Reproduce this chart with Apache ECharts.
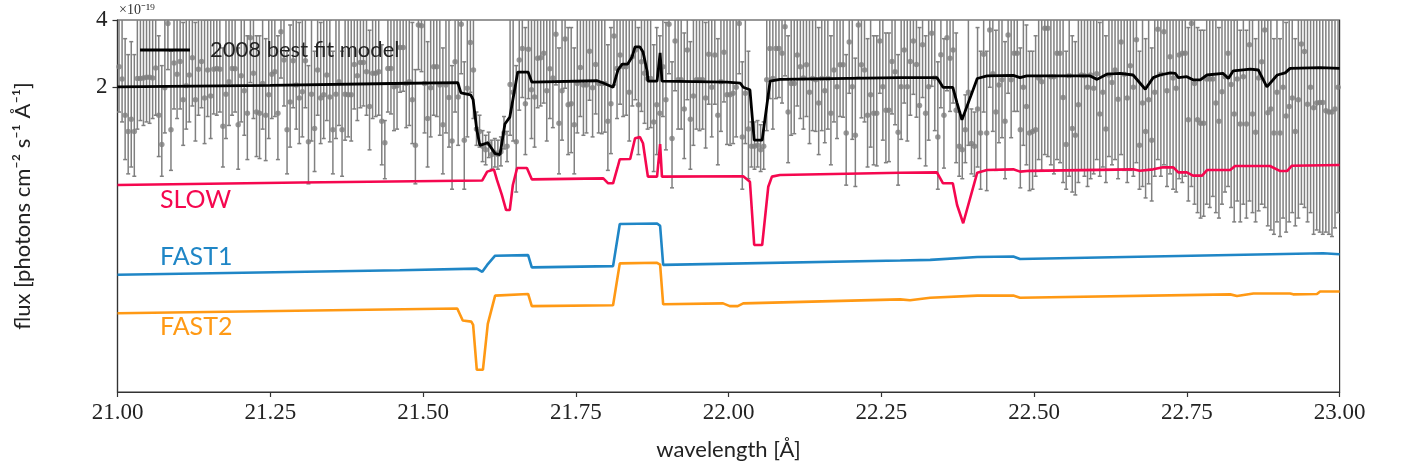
<!DOCTYPE html>
<html><head><meta charset="utf-8">
<script src="https://cdn.jsdelivr.net/npm/echarts@6/dist/echarts.min.js"></script>
<style>html,body{margin:0;padding:0;background:#fff}#c{width:1402px;height:472px}</style>
</head><body><div id="c"></div><script>
// wavelength bins (Å)
const binStart = 21.0025, binWidth = 0.005;
// observed flux (x1e-19) per bin
const fluxVal = [
2.47,2.18,1.50,1.27,1.44,1.27,2.19,2.19,2.20,2.22,
2.22,2.20,2.44,1.50,1.11,1.99,3.86,1.29,2.57,2.29,
2.61,1.76,2.03,2.27,2.71,1.76,2.41,2.61,1.79,2.39,
1.83,2.41,2.43,2.41,1.34,1.86,2.12,2.43,2.42,1.36,
2.25,1.93,1.53,3.33,2.31,1.55,1.53,2.08,1.50,1.85,
2.29,2.35,1.53,3.54,2.65,1.29,1.72,2.63,2.05,1.79,
1.91,2.63,1.14,1.86,1.31,2.39,1.79,1.85,2.27,1.81,
1.29,1.86,2.12,1.29,1.86,1.85,1.85,2.53,2.25,2.58,
2.58,2.35,1.64,2.31,2.31,2.35,1.41,1.13,2.43,2.43,
2.01,2.03,3.01,3.01,2.08,2.12,1.76,1.10,3.80,3.77,
2.08,1.45,1.99,2.47,2.47,2.05,1.36,2.05,1.80,1.15,
2.60,1.81,3.83,1.16,1.98,3.17,2.39,1.30,1.27,1.09,
1.05,1.12,1.00,1.02,1.00,1.03,1.25,1.09,2.06,1.90,
1.14,2.65,2.98,1.69,2.96,1.95,1.81,2.70,2.71,2.84,
1.93,2.42,2.20,3.45,1.38,1.93,3.29,1.67,1.69,1.36,
2.08,2.45,2.05,2.05,2.90,1.99,2.53,2.08,2.08,2.08,
1.41,1.69,3.39,2.43,2.79,2.47,2.47,1.90,2.74,2.94,
1.67,2.60,2.31,2.19,2.19,1.40,1.67,1.53,2.47,1.76,
3.83,1.18,3.22,2.16,2.16,1.60,2.94,1.44,1.83,2.16,
2.16,2.16,1.79,2.81,2.00,2.79,1.50,2.12,2.87,1.85,
1.85,1.88,2.00,3.86,1.20,1.88,1.30,1.09,1.09,1.10,
1.05,1.09,2.16,2.98,2.19,2.98,2.98,2.84,3.73,1.55,
2.08,2.08,2.79,2.47,2.20,2.52,1.90,2.19,2.16,1.70,
2.19,1.93,2.19,1.53,2.39,2.01,2.52,2.52,1.25,3.19,
2.01,1.22,3.80,2.52,2.39,1.50,1.85,1.53,1.53,3.22,
2.01,1.58,1.58,2.61,2.35,1.26,2.01,2.94,2.01,2.61,
3.22,2.53,1.66,3.10,1.53,2.01,3.49,2.20,1.20,2.80,
1.50,3.33,2.70,2.94,1.58,1.09,1.05,1.29,1.90,1.12,
1.09,1.60,1.25,2.81,1.25,3.61,2.30,1.55,2.05,2.16,
1.41,3.43,2.16,2.84,2.84,1.29,2.00,1.64,1.25,1.27,
1.29,2.20,2.12,3.67,3.67,2.23,2.23,2.84,2.84,1.80,
1.11,2.25,1.31,1.22,1.67,2.27,2.25,2.00,2.27,1.98,
2.30,1.52,1.90,1.30,2.27,2.10,2.39,1.77,3.19,2.29,
1.79,2.50,2.00,3.26,1.10,1.70,1.27,1.76,1.16,1.90,
3.64,2.29,3.54,1.93,2.74,2.20,1.98,2.79,2.84,2.84,
1.43,3.86,2.08,1.43,1.38,1.38,2.18,2.18,2.18,1.70,
1.41,1.91,2.23,2.84,2.06,1.52,2.18,1.37,2.23,1.37,
3.10,1.52,1.26,2.20,2.60,3.61,1.54,1.60,1.25,1.90,
1.25,2.00,1.49,1.64,1.79,1.27,1.76,3.12,2.89,1.68,
2.00,1.62,1.70,1.71,1.71,1.57,1.55,1.55,1.60,2.00
];
// lower end of each error bar
const fluxLo = [
1.55,1.40,0.95,0.82,0.88,0.80,1.30,1.42,1.35,1.40,
1.38,1.45,1.50,0.98,0.80,1.25,2.40,0.85,1.60,1.45,
1.60,1.10,1.30,1.40,1.65,1.15,1.50,1.62,1.12,1.48,
1.18,1.52,1.50,1.55,0.88,1.18,1.35,1.50,1.55,0.86,
1.40,1.22,0.95,2.10,1.45,0.98,0.96,1.30,0.94,1.18,
1.45,1.48,0.95,2.20,1.65,0.82,1.08,1.62,1.30,1.12,
1.20,1.62,0.74,1.15,0.84,1.50,1.12,1.18,1.42,1.14,
0.82,1.18,1.35,0.80,1.16,1.20,1.15,1.60,1.42,1.62,
1.65,1.50,1.05,1.45,1.48,1.50,0.90,0.78,1.55,1.52,
1.28,1.30,1.90,1.92,1.32,1.35,1.12,0.74,2.40,2.35,
1.25,0.88,1.20,1.50,1.48,1.22,0.82,1.25,1.08,0.70,
1.55,1.10,2.30,0.70,1.20,1.90,1.45,1.10,1.08,0.93,
0.90,0.97,0.86,0.88,0.86,0.89,1.06,0.93,1.22,1.15,
0.68,1.58,1.80,1.00,1.78,1.18,1.08,1.62,1.65,1.70,
1.15,1.45,1.32,2.05,0.82,1.16,1.98,1.00,1.02,0.82,
1.25,1.48,1.22,1.25,1.75,1.20,1.52,1.25,1.24,1.26,
0.85,1.01,2.05,1.45,1.68,1.48,1.50,1.15,1.65,1.76,
1.00,1.56,1.38,1.30,1.32,0.84,1.00,0.92,1.48,1.05,
2.30,0.71,1.93,1.30,1.30,0.96,1.76,0.86,1.10,1.30,
1.28,1.30,1.07,1.68,1.20,1.68,0.90,1.27,1.72,1.11,
1.10,1.12,1.20,2.30,0.70,1.12,0.78,0.88,0.86,0.88,
0.84,0.86,1.28,1.78,1.30,1.78,1.80,1.70,2.25,0.92,
1.22,1.24,1.65,1.45,1.30,1.48,1.12,1.28,1.27,1.00,
1.28,1.13,1.30,0.90,1.40,1.18,1.48,1.47,0.73,1.88,
1.17,0.72,2.22,1.46,1.40,0.88,1.08,0.90,0.89,1.88,
1.16,0.92,0.93,1.52,1.36,0.73,1.17,1.70,1.15,1.50,
1.86,1.47,0.96,1.80,0.89,1.16,2.02,1.28,0.70,1.62,
0.87,1.93,1.56,1.70,0.92,0.80,0.78,0.92,1.10,0.82,
0.80,0.88,0.70,1.55,0.69,2.00,1.27,0.85,1.13,1.19,
0.78,1.88,1.19,1.56,1.56,0.71,1.10,0.90,0.69,0.70,
0.80,0.95,0.85,1.00,0.98,0.90,0.82,0.95,0.92,0.75,
0.70,0.80,0.68,0.66,0.75,0.85,0.80,0.72,0.78,0.82,
0.95,0.80,0.88,0.75,0.98,0.90,0.95,0.78,1.00,0.85,
0.75,0.85,0.80,0.92,0.70,0.72,0.64,0.74,0.62,0.80,
0.95,0.80,0.90,0.72,0.82,0.70,0.68,0.78,0.75,0.80,
0.62,0.72,0.60,0.55,0.52,0.53,0.60,0.58,0.65,0.55,
0.52,0.60,0.68,0.72,0.58,0.50,0.62,0.50,0.60,0.52,
0.62,0.55,0.50,0.56,0.60,0.58,0.48,0.46,0.44,0.50,
0.43,0.52,0.45,0.50,0.55,0.48,0.52,0.60,0.58,0.50,
0.55,0.44,0.46,0.45,0.44,0.45,0.44,0.43,0.47,0.55
];
// upper end of each error bar
const fluxHi = [
5.4,4.8,3.3,2.8,3.2,2.8,4.8,4.8,4.9,4.9,
4.9,4.8,5.4,3.4,2.5,4.4,8.0,2.9,5.6,5.0,
5.7,3.9,4.5,5.0,6.0,3.9,5.3,5.7,4.0,5.3,
4.0,5.3,5.3,5.3,3.0,4.1,4.7,5.3,5.3,3.0,
5.0,4.2,3.4,7.0,5.1,3.4,3.4,4.6,3.3,4.1,
5.0,5.2,3.4,7.4,5.8,2.9,3.8,5.8,4.5,3.9,
4.2,5.8,2.5,4.1,2.9,5.3,3.9,4.1,5.0,4.0,
2.9,4.1,4.7,2.9,4.1,4.1,4.1,5.6,5.0,5.7,
5.7,5.2,3.6,5.1,5.1,5.2,3.1,1.42,5.3,5.3,
4.4,4.5,6.6,6.6,4.6,4.7,3.9,2.4,8.0,8.0,
4.6,3.2,4.4,5.4,5.4,4.5,3.0,4.5,4.0,2.5,
5.7,4.0,8.4,2.6,4.4,7.0,5.3,1.55,1.50,1.28,
1.22,1.26,1.16,1.18,1.16,1.20,1.48,1.27,4.5,4.2,
2.5,5.8,6.6,3.7,6.5,4.3,4.0,5.9,6.0,6.2,
4.2,5.3,4.8,7.6,3.0,4.2,7.2,3.7,3.7,3.0,
4.6,5.4,4.5,4.5,6.4,4.4,5.6,4.6,4.6,4.6,
3.1,3.7,7.5,5.3,6.1,5.4,5.4,4.2,6.0,6.5,
3.7,5.7,5.1,4.8,4.8,3.1,3.7,3.4,5.4,3.9,
8.4,2.6,7.1,4.8,4.8,3.5,6.5,3.2,4.0,4.8,
4.8,4.8,3.9,6.2,4.4,6.1,3.3,4.7,6.3,4.1,
4.1,4.1,4.4,8.5,2.6,4.1,2.9,1.40,1.40,1.42,
1.36,1.40,4.8,6.6,4.8,6.6,6.6,6.2,8.2,3.4,
4.6,4.6,6.1,5.4,4.8,5.5,4.2,4.8,4.8,3.7,
4.8,4.2,4.8,3.4,5.3,4.4,5.5,5.5,2.8,7.0,
4.4,2.7,8.4,5.5,5.3,3.3,4.1,3.4,3.4,7.1,
4.4,3.5,3.5,5.7,5.2,2.8,4.4,6.5,4.4,5.7,
7.1,5.6,3.7,6.8,3.4,4.4,7.7,4.8,2.6,6.2,
3.3,7.3,5.9,6.5,3.5,1.55,1.50,1.85,4.2,1.60,
1.55,3.7,2.9,6.5,2.9,8.3,5.3,3.6,4.7,5.0,
3.2,7.9,5.0,6.5,6.5,3.0,4.6,3.8,2.9,2.9,
3.4,5.5,5.3,9.0,9.0,5.6,5.6,7.1,7.1,4.5,
2.9,5.6,3.4,3.2,4.2,5.7,5.6,5.0,5.7,5.0,
5.8,3.9,4.8,3.4,5.7,5.3,6.0,4.4,8.0,5.7,
4.5,6.3,5.0,8.2,2.9,4.3,3.3,4.4,3.0,4.8,
9.1,5.7,8.9,4.8,6.9,5.5,5.0,7.0,7.1,7.1,
3.7,9.7,5.2,3.7,3.6,3.6,5.5,5.5,5.5,4.3,
3.7,4.8,5.6,7.1,5.2,4.0,5.5,3.6,5.6,3.6,
7.8,4.0,3.3,5.5,6.5,9.0,4.0,4.2,3.3,4.8,
3.3,5.0,3.9,4.3,4.5,3.3,4.4,7.8,7.2,4.4,
5.0,4.2,4.3,4.3,4.3,4.1,4.0,4.0,4.2,5.0
];
// models: [wavelength, flux]
const modelBest = [[21.000,2.01],[21.250,2.04],[21.450,2.08],[21.557,2.10],[21.562,1.89],[21.578,1.85],[21.582,1.76],[21.588,1.29],[21.593,1.10],[21.606,1.13],[21.618,1.01],[21.626,1.00],[21.634,1.37],[21.642,1.47],[21.655,2.34],[21.672,2.34],[21.678,2.11],[21.785,2.14],[21.795,2.09],[21.811,2.00],[21.819,2.39],[21.826,2.54],[21.835,2.54],[21.842,2.73],[21.847,3.03],[21.855,3.03],[21.860,2.88],[21.867,2.34],[21.868,2.13],[21.883,2.13],[21.888,2.85],[21.891,2.13],[21.998,2.11],[22.019,2.09],[22.024,2.00],[22.035,1.95],[22.042,1.16],[22.055,1.16],[22.068,2.13],[22.084,2.17],[22.281,2.21],[22.341,2.21],[22.351,2.00],[22.367,2.00],[22.374,1.70],[22.382,1.43],[22.407,2.19],[22.423,2.25],[22.466,2.26],[22.477,2.21],[22.488,2.25],[22.591,2.25],[22.603,2.17],[22.619,2.29],[22.641,2.31],[22.662,2.27],[22.682,1.96],[22.695,2.21],[22.706,2.27],[22.723,2.32],[22.731,2.31],[22.736,2.21],[22.750,2.23],[22.760,2.16],[22.772,2.16],[22.783,2.27],[22.809,2.31],[22.818,2.19],[22.826,2.37],[22.854,2.41],[22.867,2.39],[22.881,2.01],[22.898,2.27],[22.911,2.32],[22.919,2.43],[22.968,2.45],[23.000,2.43]];
const modelSlow = [[21.000,0.731],[21.300,0.750],[21.597,0.766],[21.605,0.839],[21.616,0.858],[21.621,0.770],[21.629,0.660],[21.636,0.565],[21.642,0.565],[21.647,0.731],[21.654,0.871],[21.670,0.871],[21.678,0.775],[21.795,0.783],[21.803,0.744],[21.811,0.744],[21.818,0.869],[21.822,0.953],[21.839,0.955],[21.847,1.183],[21.855,1.197],[21.860,1.124],[21.868,0.797],[21.883,0.797],[21.888,1.115],[21.891,0.797],[22.024,0.800],[22.035,0.756],[22.042,0.394],[22.055,0.394],[22.065,0.718],[22.071,0.797],[22.084,0.811],[22.281,0.830],[22.341,0.833],[22.351,0.744],[22.367,0.744],[22.374,0.595],[22.384,0.493],[22.407,0.830],[22.423,0.853],[22.466,0.859],[22.477,0.839],[22.493,0.846],[22.662,0.859],[22.673,0.846],[22.695,0.859],[22.711,0.877],[22.728,0.877],[22.736,0.833],[22.750,0.833],[22.760,0.805],[22.775,0.805],[22.783,0.853],[22.821,0.853],[22.829,0.889],[22.886,0.889],[22.903,0.844],[22.914,0.844],[22.922,0.892],[23.000,0.898]];
const modelFast1 = [[21.000,0.290],[21.462,0.304],[21.588,0.309],[21.597,0.299],[21.605,0.321],[21.618,0.353],[21.672,0.355],[21.678,0.313],[21.811,0.317],[21.822,0.489],[21.883,0.492],[21.888,0.480],[21.893,0.321],[22.281,0.336],[22.330,0.338],[22.407,0.348],[22.466,0.350],[22.477,0.341],[22.973,0.362],[23.000,0.358]];
const modelFast2 = [[21.000,0.195],[21.556,0.205],[21.565,0.181],[21.579,0.179],[21.582,0.173],[21.588,0.109],[21.598,0.109],[21.606,0.175],[21.618,0.234],[21.672,0.238],[21.678,0.210],[21.811,0.212],[21.822,0.326],[21.883,0.328],[21.888,0.322],[21.893,0.214],[21.991,0.216],[22.002,0.210],[22.015,0.210],[22.024,0.216],[22.281,0.225],[22.297,0.223],[22.330,0.229],[22.407,0.234],[22.466,0.234],[22.477,0.229],[22.821,0.237],[22.832,0.233],[22.859,0.239],[22.919,0.239],[22.924,0.237],[22.963,0.238],[22.968,0.244],[23.000,0.244]];
const yTickValues = [2, 4];
const seriesNames = ['SLOW', 'FAST1', 'FAST2'];

const GREY = '#808080', PINK = '#f5074f', BLUE = '#1f86c6', ORANGE = '#ff9914';
const errData = fluxVal.map((v, i) => [binStart + binWidth * i, fluxLo[i], fluxHi[i]]);
const ptData = fluxVal.map((v, i) => [binStart + binWidth * i, v]);

const chart = echarts.init(document.getElementById('c'), null, {renderer: 'canvas'});
const axisCol = '#333';
chart.setOption({
  animation: false,
  grid: {left: 117.5, right: 62.4, top: 20, bottom: 80, show: true, borderColor: axisCol, borderWidth: 1.2},
  legend: {
    data: [{name: '2008 best fit model', icon: 'rect'}], left: 140, top: 39, padding: 0,
    itemWidth: 50, itemHeight: 3, itemStyle: {color: '#000'},
    textStyle: {fontFamily: 'Lato', fontSize: 22, color: '#222', padding: [0, 0, 0, 15]}
  },
  xAxis: {
    type: 'value', min: 21, max: 23, interval: 0.25,
    axisLine: {show: true, onZero: false, lineStyle: {color: axisCol, width: 1.2}},
    axisTick: {show: true, length: 5, lineStyle: {color: axisCol, width: 1.2}},
    splitLine: {show: false},
    axisLabel: {formatter: v => v.toFixed(2), fontFamily: 'Liberation Serif', fontSize: 23, color: '#222', margin: 9},
    name: 'wavelength [Å]', nameLocation: 'middle', nameGap: 47,
    nameTextStyle: {fontFamily: 'Lato', fontSize: 22, color: '#222'}
  },
  yAxis: {
    type: 'log', logBase: 10, min: 0.0867, max: 4,
    axisLine: {show: true, lineStyle: {color: axisCol, width: 1.2}},
    axisTick: {show: true, length: 5, customValues: yTickValues, lineStyle: {color: axisCol, width: 1.2}},
    minorTick: {show: false}, splitLine: {show: false},
    axisLabel: {customValues: yTickValues, formatter: v => String(Math.round(v)), fontFamily: 'Liberation Serif', fontSize: 23, color: '#222', margin: 10},
    name: 'flux [photons cm⁻² s⁻¹ Å⁻¹]', nameLocation: 'middle', nameGap: 84, nameRotate: 90,
    nameTextStyle: {fontFamily: 'Lato', fontSize: 22, color: '#222'}
  },
  graphic: [
    {type: 'text', left: 119, top: 3, style: {text: '×10⁻¹⁹', fontFamily: 'Liberation Serif', fontSize: 14, fill: '#333'}},
    {type: 'text', left: 160, top: 187, style: {text: seriesNames[0], fontFamily: 'Lato', fontSize: 25, fill: PINK}},
    {type: 'text', left: 160, top: 244, style: {text: seriesNames[1], fontFamily: 'Lato', fontSize: 25, fill: BLUE}},
    {type: 'text', left: 160, top: 314, style: {text: seriesNames[2], fontFamily: 'Lato', fontSize: 25, fill: ORANGE}}
  ],
  series: [
    {
      type: 'custom', name: 'errors', data: errData, clip: true, z: 1,
      encode: {x: 0, y: [1, 2]},
      renderItem: function (params, api) {
        const x = api.value(0);
        const p1 = api.coord([x, api.value(1)]);
        const p2 = api.coord([x, api.value(2)]);
        const st = {stroke: GREY, lineWidth: 1.5};
        const c = 2;
        return {type: 'group', children: [
          {type: 'line', shape: {x1: p1[0], y1: p1[1], x2: p2[0], y2: p2[1]}, style: st},
          {type: 'line', shape: {x1: p1[0] - c, y1: p1[1], x2: p1[0] + c, y2: p1[1]}, style: st},
          {type: 'line', shape: {x1: p2[0] - c, y1: p2[1], x2: p2[0] + c, y2: p2[1]}, style: st}
        ]};
      }
    },
    {type: 'scatter', name: 'data', data: ptData, symbolSize: 5.5, itemStyle: {color: GREY}, z: 2, clip: true},
    {type: 'line', name: seriesNames[0], data: modelSlow, showSymbol: false, symbol: 'none', lineStyle: {color: PINK, width: 2.6}, itemStyle: {color: PINK}, z: 3},
    {type: 'line', name: seriesNames[1], data: modelFast1, showSymbol: false, symbol: 'none', lineStyle: {color: BLUE, width: 2.6}, itemStyle: {color: BLUE}, z: 3},
    {type: 'line', name: seriesNames[2], data: modelFast2, showSymbol: false, symbol: 'none', lineStyle: {color: ORANGE, width: 2.6}, itemStyle: {color: ORANGE}, z: 3},
    {type: 'line', name: '2008 best fit model', data: modelBest, showSymbol: false, symbol: 'none', lineStyle: {color: '#000', width: 2.8}, itemStyle: {color: '#000'}, z: 4}
  ]
});
</script></body></html>
